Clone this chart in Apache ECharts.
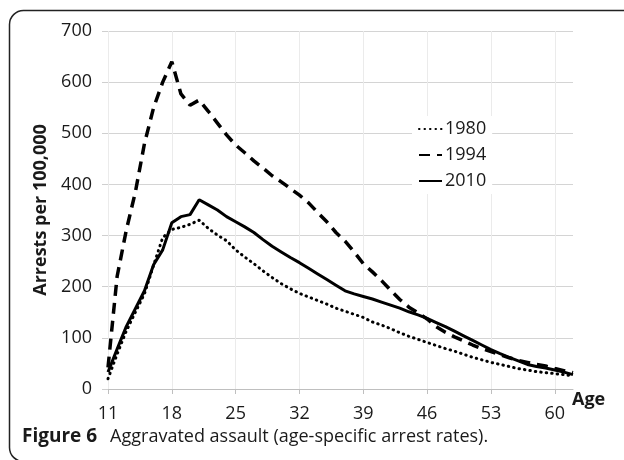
<!DOCTYPE html>
<html>
<head>
<meta charset="utf-8">
<script src="https://cdn.jsdelivr.net/npm/echarts@6/dist/echarts.min.js"></script>
<style>
html,body{margin:0;padding:0;background:#fff;}
#chart{width:624px;height:460px;}
</style>
</head>
<body>
<div id="chart"></div>
<script>
var ages = ['11','12','13','14','15','16','17','18','19','20','21','22','23','24','25','26','27','28','29','30','31','32','33','34','35','36','37','38','39','40','41','42','43','44','45','46','47','48','49','50','51','52','53','54','55','56','57','58','59','60','61','62'];
var rates1980 = [20,68,113,150,186,242,296,312,316,322,330,314,301,290,272,258,245,231,218,206,196,187,180,173,166,158,152,146,140,131,125,118,110,103,97,91,85,79,74,68,62,57,52,48,44,40,37,34,32,30,28,26];
var rates1994 = [42,220,310,385,480,550,600,640,577,555,565,543,520,497,477,462,446,432,417,405,392,379,364,345,327,306,289,268,245,229,212,193,175,160,149,137,122,111,102,94,86,79,73,67,61,56,52,48,45,40,36,32];
var rates2010 = [33,78,122,157,192,243,272,325,337,341,370,360,350,337,327,317,306,292,279,268,257,247,236,225,214,203,192,186,181,176,170,164,158,151,145,138,130,122,113,104,95,86,77,69,62,55,48,44,41,37,33,28];
var yTicks = {min: 0, max: 700, interval: 100};
var yTitle = 'Arrests per 100,000';
var xTitle = 'Age';
var captionBold = 'Figure 6';
var captionText = 'Aggravated assault (age-specific arrest rates).';

var chart = echarts.init(document.getElementById('chart'));
var font = '"Open Sans", "Noto Sans", sans-serif';
chart.setOption({
  animation: false,
  backgroundColor: '#fff',
  color: ['#000', '#000', '#000'],
  textStyle: {fontFamily: font},
  grid: {left: 108, right: 51, top: 31, bottom: 71, containLabel: false},
  legend: {
    orient: 'vertical',
    left: 412, top: 116,
    itemWidth: 23, itemHeight: 12, itemGap: 8,
    backgroundColor: '#fff',
    padding: [4, 6, 4, 6],
    itemStyle: {opacity: 0},
    textStyle: {fontSize: 18, color: '#1a1a1a', fontFamily: font, padding: [0,0,0,-2], lineHeight: 18},
    data: ['1980', '1994', '2010']
  },
  xAxis: {
    type: 'category',
    data: ages,
    boundaryGap: false,
    axisLine: {show: true, lineStyle: {color: '#bfbfbf', width: 1}},
    axisTick: {show: true, interval: 6, length: 5, lineStyle: {color: '#bfbfbf'}},
    axisLabel: {interval: 6, margin: 16, fontSize: 18, color: '#1a1a1a', fontFamily: font},
    splitLine: {show: true, interval: 6, lineStyle: {color: '#ebebeb', width: 1}}
  },
  yAxis: {
    type: 'value',
    min: yTicks.min, max: yTicks.max, interval: yTicks.interval,
    name: yTitle,
    nameLocation: 'middle',
    nameGap: 58,
    nameRotate: 90,
    nameTextStyle: {fontSize: 18, fontWeight: 'bold', color: '#1a1a1a', fontFamily: font},
    axisLine: {show: false},
    axisTick: {show: true, length: 6, lineStyle: {color: '#cfcfcf'}},
    axisLabel: {margin: 16, fontSize: 18, color: '#1a1a1a', fontFamily: font},
    splitLine: {show: true, lineStyle: {color: '#d4d4d4', width: 1}}
  },
  series: [
    {name: '1980', type: 'line', data: rates1980, showSymbol: false, symbol: 'none',
     itemStyle: {color: '#000'},
     lineStyle: {color: '#000', width: 3, type: [0.5, 5], cap: 'round'}},
    {name: '1994', type: 'line', data: rates1994, showSymbol: false, symbol: 'none',
     itemStyle: {color: '#000'},
     lineStyle: {color: '#000', width: 3.5, type: [11, 7], cap: 'butt'}},
    {name: '2010', type: 'line', data: rates2010, showSymbol: false, symbol: 'none',
     itemStyle: {color: '#000'},
     lineStyle: {color: '#000', width: 3, type: 'solid'}}
  ],
  graphic: [
    {type: 'rect', left: 7, top: 8, silent: true,
     shape: {x: 0, y: 0, width: 640, height: 451, r: 14},
     style: {fill: 'none', stroke: '#222', lineWidth: 1.5}},
    {type: 'text', left: 572, top: 391,
     style: {text: xTitle, fontSize: 18, fontWeight: 'bold', fill: '#1a1a1a', fontFamily: font}},
    {type: 'text', left: 22, top: 427,
     style: {
       text: '{b|' + captionBold + '}{r|' + captionText + '}',
       rich: {
         b: {fontSize: 19, fontWeight: 'bold', fill: '#1a1a1a', fontFamily: font, padding: [0, 13, 0, 0]},
         r: {fontSize: 18, fill: '#1a1a1a', fontFamily: font}
       }
     }}
  ]
});
</script>
</body>
</html>
